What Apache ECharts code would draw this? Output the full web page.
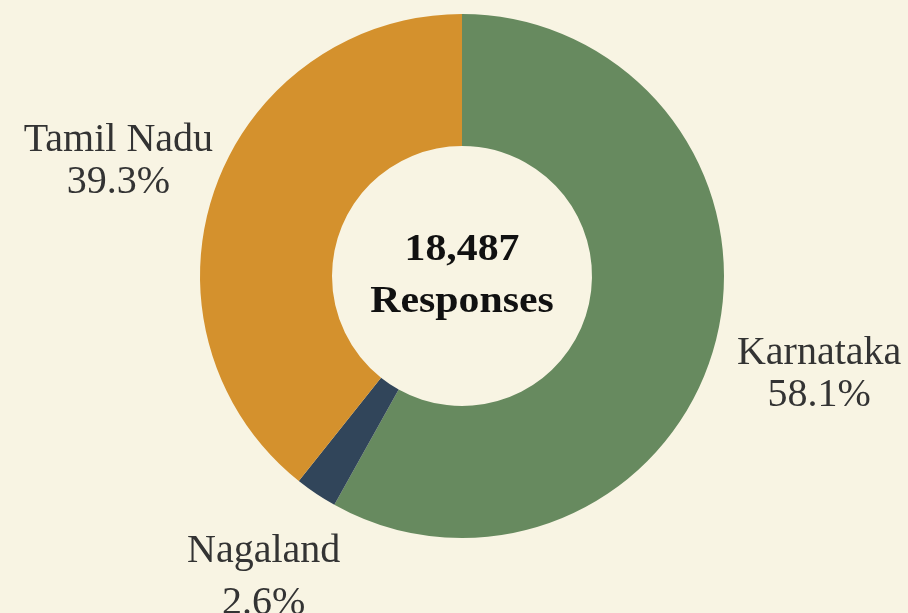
<!DOCTYPE html>
<html>
<head>
<meta charset="utf-8">
<script src="https://cdn.jsdelivr.net/npm/echarts@6/dist/echarts.min.js"></script>
<style>
  html, body { margin: 0; padding: 0; background: #f8f4e3; }
  #chart { width: 908px; height: 613px; }
</style>
</head>
<body>
<div id="chart"></div>
<script>
// survey responses by state
const regions = ['Karnataka', 'Nagaland', 'Tamil Nadu'];
const responses = [10741, 481, 7265];
const colors = ['#678a5f', '#31455a', '#d4912d'];
// how far each label sits out from the ring
const labelLens = [107, 94, 102];
const lineHeights = [42, 52, 42];

const total = responses.reduce((a, b) => a + b, 0);
const center = [462, 276];
const BOX = 170;

function richFor(lh) {
  return {
    t: { width: BOX, align: 'center', lineHeight: lh, fontSize: 40, fontFamily: 'Liberation Serif', color: '#333333' }
  };
}

const chart = echarts.init(document.getElementById('chart'));
chart.setOption({
  backgroundColor: '#f8f4e3',
  animation: false,
  graphic: [{
    type: 'text',
    x: center[0],
    y: center[1],
    scaleX: 1.1,
    style: {
      text: total.toLocaleString('en-US') + '\nResponses',
      font: 'bold 38px "Liberation Serif"',
      lineHeight: 52,
      fill: '#111111',
      align: 'center',
      verticalAlign: 'middle'
    }
  }],
  series: [{
    type: 'pie',
    center: center,
    radius: [130, 262],
    startAngle: 90,
    clockwise: true,
    avoidLabelOverlap: false,
    percentPrecision: 1,
    label: {
      show: true,
      position: 'outside',
      formatter: '{t|{b}}\n{t|{d}%}',
      distanceToLabelLine: -BOX / 2,
      bleedMargin: 0,
      padding: [11, 0, 0, 0],
      rich: richFor(42)
    },
    labelLine: { show: false, length2: 0 },
    data: regions.map((name, i) => ({
      name: name,
      value: responses[i],
      itemStyle: { color: colors[i] },
      label: { rich: richFor(lineHeights[i]) },
      labelLine: { show: false, length: labelLens[i], length2: 0 }
    }))
  }]
});
</script>
</body>
</html>
